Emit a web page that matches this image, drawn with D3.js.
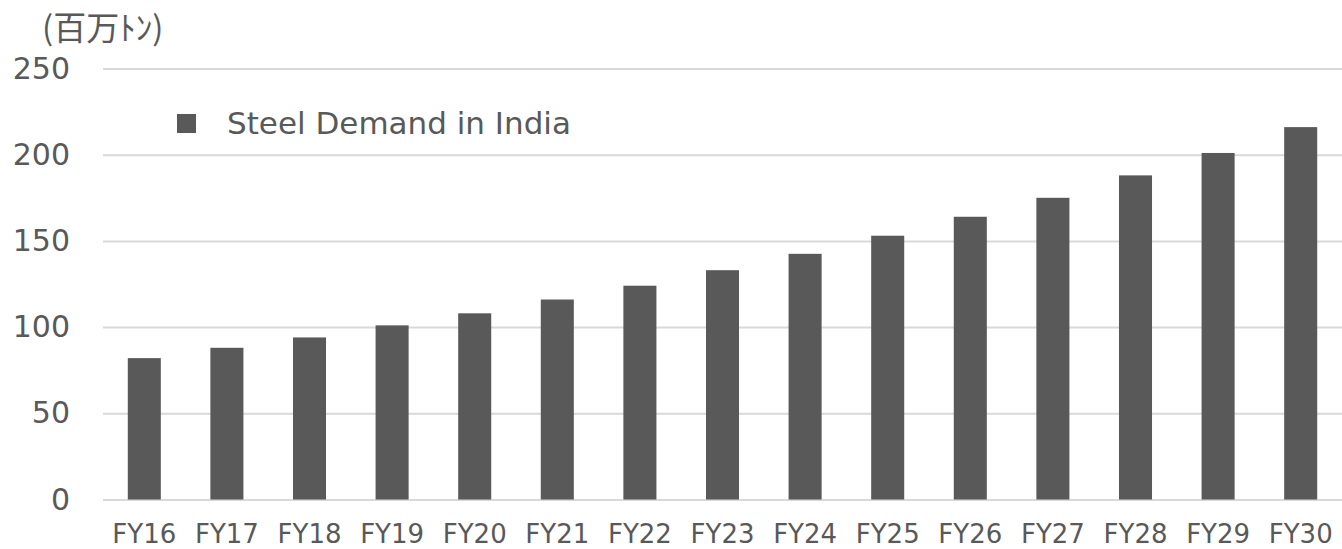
<!DOCTYPE html>
<html>
<head>
<meta charset="utf-8">
<script src="https://cdn.jsdelivr.net/npm/d3@7"></script>
<style>
  body { margin: 0; background: #fff; }
  text { font-family: "DejaVu Sans", Verdana, sans-serif; fill: #595959; }
</style>
</head>
<body>
<svg id="chart"></svg>
<script>
const years = ["FY16", "FY17", "FY18", "FY19", "FY20", "FY21", "FY22", "FY23",
               "FY24", "FY25", "FY26", "FY27", "FY28", "FY29", "FY30"];
const demand = [82, 88, 94, 101, 108, 116, 124, 133, 142.5, 153, 164, 175, 188, 201, 216];
const yTicks = [0, 50, 100, 150, 200, 250];
const seriesName = "Steel Demand in India";
const unitLabel = "(百万ﾄﾝ)";

const svgWidth = 1342, svgHeight = 549;
const margin = { top: 68.5, right: 0, bottom: 49.5, left: 103 };
const width = svgWidth - margin.left - margin.right;
const height = svgHeight - margin.top - margin.bottom;

const root = d3.select("#chart")
  .attr("width", svgWidth)
  .attr("height", svgHeight);

const svg = root.append("g")
  .attr("transform", `translate(${margin.left},${margin.top})`);

const xScale = d3.scaleBand()
  .domain(years)
  .range([0, width])
  .paddingInner(0.6)
  .paddingOuter(0.3);

const yScale = d3.scaleLinear()
  .domain([0, 250])
  .range([height, 0]);

// gridlines
svg.append("g")
  .attr("class", "grid")
  .call(d3.axisLeft(yScale).tickValues(yTicks).tickSize(-width).tickFormat(""))
  .call(g => g.select(".domain").remove())
  .call(g => g.selectAll("line").attr("stroke", "#d9d9d9").attr("stroke-width", 2));

svg.selectAll(".bar")
  .data(years.map((y, i) => ({ year: y, value: demand[i] })))
  .enter()
  .append("rect")
  .attr("class", "bar")
  .attr("x", d => xScale(d.year))
  .attr("y", d => yScale(d.value))
  .attr("width", xScale.bandwidth())
  .attr("height", d => height - yScale(d.value))
  .attr("fill", "#595959");

// y tick labels
svg.append("g")
  .call(d3.axisLeft(yScale).tickValues(yTicks).tickSize(0).tickPadding(33))
  .call(g => g.select(".domain").remove())
  .call(g => g.selectAll("text")
    .style("font-size", "30px")
    .attr("fill", "#595959"));

// x tick labels
svg.append("g")
  .attr("transform", `translate(0,${height})`)
  .call(d3.axisBottom(xScale).tickSize(0).tickPadding(25))
  .call(g => g.select(".domain").remove())
  .call(g => g.selectAll("text")
    .style("font-size", "26px")
    .attr("fill", "#595959"));

// unit label
root.append("text")
  .attr("x", 42)
  .attr("y", 40)
  .style("font-family", "'Noto Sans CJK JP', sans-serif")
  .style("font-size", "33px")
  .text(unitLabel);

// legend
const legend = root.append("g").attr("transform", "translate(177,114)");
legend.append("rect")
  .attr("width", 19)
  .attr("height", 19)
  .attr("fill", "#595959");
legend.append("text")
  .attr("x", 50)
  .attr("y", 20)
  .style("font-size", "31px")
  .text(seriesName);
</script>
</body>
</html>
